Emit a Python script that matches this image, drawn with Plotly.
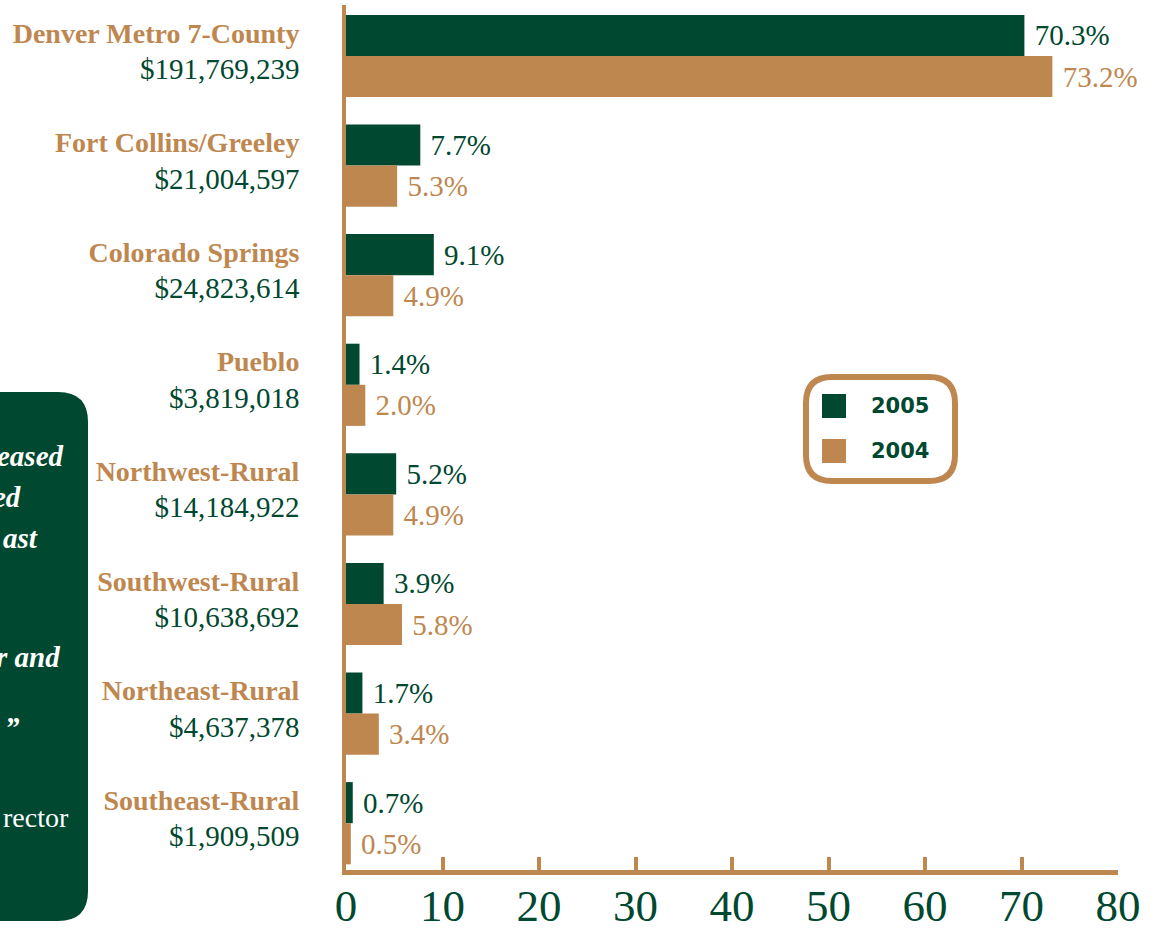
import plotly.graph_objects as go

# ---------------- data ----------------
regions = ["Denver Metro 7-County", "Fort Collins/Greeley", "Colorado Springs", "Pueblo",
           "Northwest-Rural", "Southwest-Rural", "Northeast-Rural", "Southeast-Rural"]
amounts = [191769239, 21004597, 24823614, 3819018, 14184922, 10638692, 4637378, 1909509]
share_2005 = [70.3, 7.7, 9.1, 1.4, 5.2, 3.9, 1.7, 0.7]
share_2004 = [73.2, 5.3, 4.9, 2.0, 4.9, 5.8, 3.4, 0.5]
series_names = ["2005", "2004"]
x_ticks = [0, 10, 20, 30, 40, 50, 60, 70, 80]
quote_fragments = ["eased", "ed", "ast", "r and", "\u201d"]
credit_fragment = "rector"

# ---------------- style ----------------
GREEN = "#00482F"
TAN = "#BF8750"
SERIF = "Liberation Serif"

W, H = 1159, 941
L, R, T, B = 346, 1118, 5, 870


def px(x):
    return (x - L) / (R - L)


def py(y):
    return (B - y) / (B - T)


ticktext = [
    f"<span style='color:{TAN}'><b>{r}</b></span><br>"
    f"<span style='color:{GREEN};font-size:29px'>${a:,}</span>"
    for r, a in zip(regions, amounts)
]

fig = go.Figure()
for name, vals, col in [(series_names[0], share_2005, GREEN), (series_names[1], share_2004, TAN)]:
    fig.add_trace(go.Bar(
        y=regions, x=vals, orientation="h", name=name,
        marker=dict(color=col, line=dict(width=0)),
        text=[f"\u2005{v:.1f}%" for v in vals], textposition="outside",
        textfont=dict(family=SERIF, size=29, color=col),
        cliponaxis=False, constraintext="none",
    ))

n = len(regions)
fig.update_layout(
    width=W, height=H,
    margin=dict(l=L, r=W - R, t=T, b=H - B, pad=0, autoexpand=False),
    paper_bgcolor="white", plot_bgcolor="white",
    barmode="group", bargap=0.25, bargroupgap=0,
    showlegend=False,
    xaxis=dict(
        range=[0, 80], tickvals=x_ticks, ticktext=[str(t) for t in x_ticks],
        showgrid=False, zeroline=False, automargin=False,
        showline=True, linecolor=TAN, linewidth=5,
        ticks="inside", ticklen=13, tickwidth=4, tickcolor=TAN,
        tickfont=dict(family=SERIF, size=45, color=GREEN),
        ticklabelstandoff=-8,
    ),
    yaxis=dict(
        type="category", categoryorder="array", categoryarray=regions,
        range=[n - 1 + (B - 56 - (n - 1) * 109.6) / 109.6, -(56 - T) / 109.6],
        tickmode="array", tickvals=regions, ticktext=ticktext,
        tickfont=dict(family=SERIF, size=28, color=GREEN),
        showgrid=False, zeroline=False, automargin=False,
        showline=True, linecolor=TAN, linewidth=4,
        ticks="", ticklabelstandoff=37, ticklabelshift=5,
    ),
)

# ---------- left quote panel (cut off at the page edge) ----------
def rounded_right_rect(x0, y0, x1, y1, r):
    return (f"M {px(x0)} {py(y0)} L {px(x1 - r)} {py(y0)} "
            f"Q {px(x1)} {py(y0)} {px(x1)} {py(y0 + r)} "
            f"L {px(x1)} {py(y1 - r)} Q {px(x1)} {py(y1)} {px(x1 - r)} {py(y1)} "
            f"L {px(x0)} {py(y1)} Z")


fig.add_shape(type="path", xref="paper", yref="paper",
              path=rounded_right_rect(-60, 392, 88, 921, 30),
              fillcolor=GREEN, line=dict(width=0), layer="below")

q_right = [66, 23, 40, 62, 22]
q_y = [456, 497, 538, 657, 727]
for txt, xr, yc in zip(quote_fragments, q_right, q_y):
    fig.add_annotation(xref="paper", yref="paper", x=px(xr), y=py(yc),
                       xanchor="right", yanchor="middle", showarrow=False,
                       text=f"<b><i>{txt}</i></b>",
                       font=dict(family=SERIF, size=29, color="white"))
fig.add_annotation(xref="paper", yref="paper", x=px(71), y=py(817),
                   xanchor="right", yanchor="middle", showarrow=False,
                   text=credit_fragment,
                   font=dict(family=SERIF, size=28, color="white"))

# ---------- custom legend ----------
def rounded_rect(x0, y0, x1, y1, r):
    return (f"M {px(x0 + r)} {py(y0)} L {px(x1 - r)} {py(y0)} "
            f"Q {px(x1)} {py(y0)} {px(x1)} {py(y0 + r)} "
            f"L {px(x1)} {py(y1 - r)} Q {px(x1)} {py(y1)} {px(x1 - r)} {py(y1)} "
            f"L {px(x0 + r)} {py(y1)} Q {px(x0)} {py(y1)} {px(x0)} {py(y1 - r)} "
            f"L {px(x0)} {py(y0 + r)} Q {px(x0)} {py(y0)} {px(x0 + r)} {py(y0)} Z")


fig.add_shape(type="path", xref="paper", yref="paper",
              path=rounded_rect(806, 377, 955, 481, 26),
              fillcolor="white", line=dict(color=TAN, width=6))
for name, col, yc in [(series_names[0], GREEN, 406), (series_names[1], TAN, 451)]:
    fig.add_shape(type="rect", xref="paper", yref="paper",
                  x0=px(822), x1=px(846), y0=py(yc - 12), y1=py(yc + 12),
                  fillcolor=col, line=dict(width=0))
    fig.add_annotation(xref="paper", yref="paper", x=px(869), y=py(yc),
                       xanchor="left", yanchor="middle", showarrow=False,
                       text=f"<b>{name}</b>",
                       font=dict(family="DejaVu Sans", size=21, color=GREEN))

fig.write_html(
    "out.html",
    config={"displayModeBar": False},
    post_script="document.body.style.margin='0';document.body.style.overflow='hidden';",
)
